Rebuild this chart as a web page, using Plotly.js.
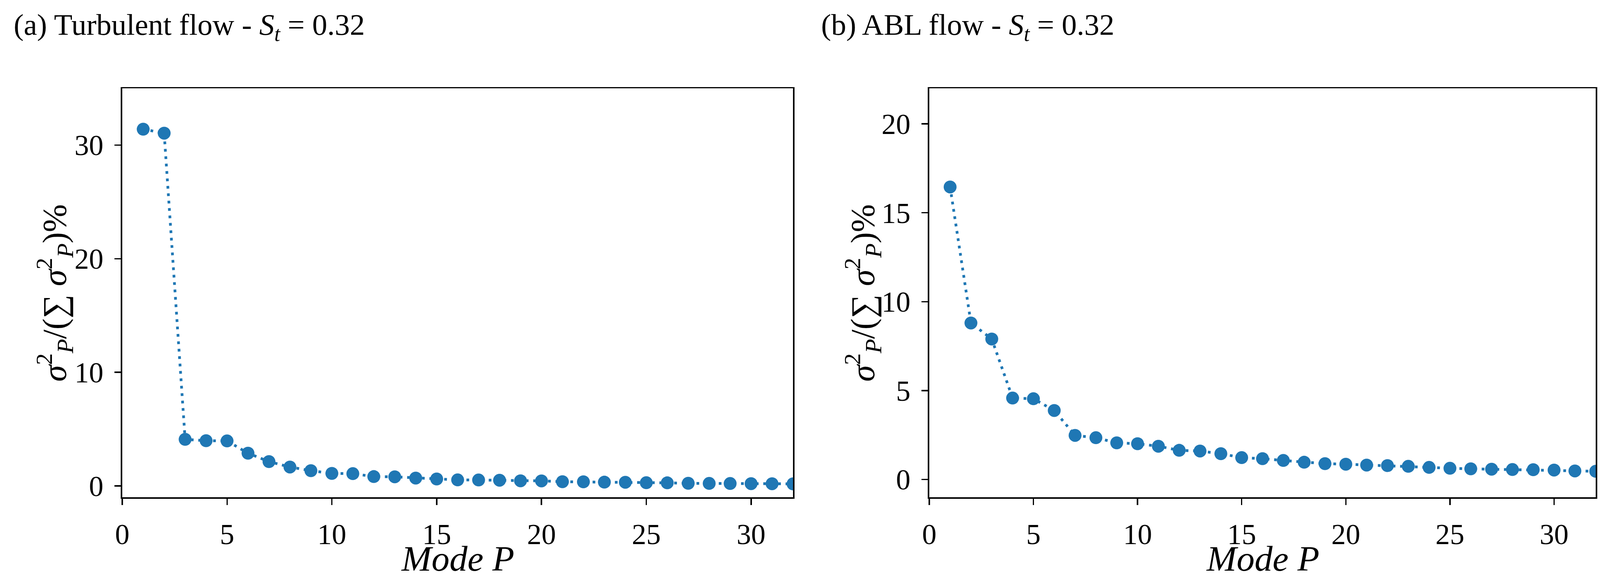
<!DOCTYPE html>
<html>
<head>
<meta charset="utf-8">
<script src="https://cdn.plot.ly/plotly-3.0.1.min.js"></script>
<style>
  html, body { margin: 0; padding: 0; background: #fff; }
  #chart { width: 4123px; height: 1490px; }
</style>
</head>
<body>
<div id="chart"></div>
<script>
// Mode energy fraction.
const modes = [1, 2, 3, 4, 5, 6, 7, 8, 9, 10, 11, 12, 13, 14, 15, 16,
  17, 18, 19, 20, 21, 22, 23, 24, 25, 26, 27, 28, 29, 30, 31, 32];

const turbulentPct = [31.4, 31.05, 4.1, 3.98, 3.96, 2.88, 2.14, 1.66, 1.34, 1.1, 1.08, 0.82,
  0.8, 0.69, 0.61, 0.53, 0.52, 0.5, 0.45, 0.44, 0.37, 0.36, 0.33, 0.32, 0.28, 0.27,
  0.23, 0.22, 0.21, 0.2, 0.19, 0.18];

const ablPct = [16.45, 8.8, 7.9, 4.58, 4.54, 3.88, 2.48, 2.35, 2.06, 2.01, 1.87, 1.64,
  1.6, 1.45, 1.23, 1.17, 1.07, 0.97, 0.89, 0.86, 0.81, 0.78, 0.74, 0.68, 0.63, 0.6,
  0.58, 0.56, 0.55, 0.53, 0.48, 0.46];

const xTicks = [0, 5, 10, 15, 20, 25, 30];
const turbulentTicks = [0, 10, 20, 30];
const ablTicks = [0, 5, 10, 15, 20];

const BLUE = "#1f77b4";
const SERIF = "Liberation Serif, Times New Roman, serif";
const TICK_FONT = { family: SERIF, size: 74, color: "#000" };

function modeTrace(y, xa, ya) {
  return {
    x: modes,
    y,
    xaxis: xa,
    yaxis: ya,
    type: "scatter",
    mode: "lines+markers",
    line: { color: BLUE, width: 7, dash: "7px,12px" },
    marker: { color: BLUE, size: 33 },
    cliponaxis: true,
    showlegend: false,
  };
}

// matplotlib-style box: black frame, outside ticks on bottom/left only
function frame(extra) {
  return Object.assign({
    ticks: "outside",
    ticklen: 16,
    tickwidth: 3.5,
    tickcolor: "#000",
    showline: true,
    linecolor: "#000",
    linewidth: 3.5,
    mirror: true,
    showgrid: false,
    zeroline: false,
    tickfont: TICK_FONT,
  }, extra);
}

const xAxis = (domain, anchor) =>
  frame({ domain, anchor, range: [0, 32], tickvals: xTicks, ticklabelstandoff: 12 });

const yAxis = (domain, anchor, range, ticks) =>
  frame({ domain, anchor, range, tickvals: ticks, ticklabelstandoff: 14 });

const yTitle = "<i>σ</i><sup>2</sup><sub><i>P</i></sub>/(∑ <i>σ</i><sup>2</sup><sub><i>P</i></sub>)%";

function label(text, x, y, size, opts = {}) {
  return Object.assign({
    text,
    x,
    y,
    xref: "paper",
    yref: "paper",
    showarrow: false,
    font: { family: SERIF, size, color: "#000" },
  }, opts);
}

// x-axis title box top, px from figure top
const MODE_TOP = 1377;

const layout = {
  width: 4123,
  height: 1490,
  paper_bgcolor: "#fff",
  plot_bgcolor: "#fff",
  margin: { l: 0, r: 0, t: 0, b: 0 },
  showlegend: false,
  xaxis: xAxis([0.0759, 0.4924], "y"),
  yaxis: yAxis([0.1456, 0.8483], "x", [-1, 35], turbulentTicks),
  xaxis2: xAxis([0.577, 0.9908], "y2"),
  yaxis2: yAxis([0.1456, 0.8483], "x2", [-1, 22], ablTicks),
  annotations: [
    label("(a) Turbulent flow - <i>S<sub>t</sub></i> = 0.32", 0.008, 0.954, 77, { xanchor: "left", yanchor: "middle" }),
    label("(b) ABL flow - <i>S<sub>t</sub></i> = 0.32", 0.5093, 0.954, 77, { xanchor: "left", yanchor: "middle" }),
    label("<i>Mode P</i>", 0.2841, 1 - MODE_TOP / 1490, 92, { xanchor: "center", yanchor: "top" }),
    label("<i>Mode P</i>", 0.7839, 1 - MODE_TOP / 1490, 92, { xanchor: "center", yanchor: "top" }),
    label(yTitle, 0.0337, 0.4966, 86, { textangle: -90, xanchor: "center", yanchor: "middle" }),
    label(yTitle, 0.5355, 0.4966, 86, { textangle: -90, xanchor: "center", yanchor: "middle" }),
  ],
};

Plotly.newPlot("chart", [modeTrace(turbulentPct, "x", "y"), modeTrace(ablPct, "x2", "y2")], layout, {
  displayModeBar: false,
  staticPlot: true,
});
</script>
</body>
</html>
